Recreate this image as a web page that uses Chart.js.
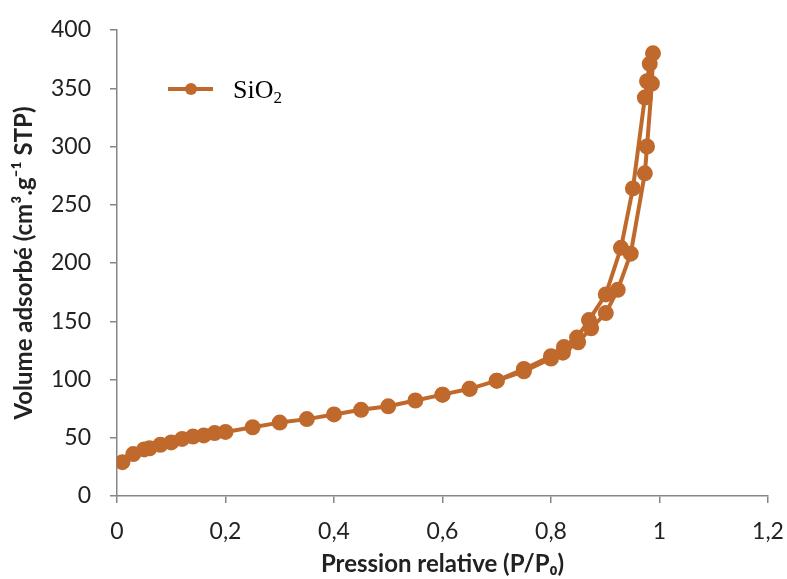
<!DOCTYPE html>
<html>
<head>
<meta charset="utf-8">
<script src="https://cdn.jsdelivr.net/npm/chart.js@4"></script>
<style>
  html, body { margin: 0; padding: 0; background: #fff; }
  #wrap { width: 787px; height: 579px; }
</style>
</head>
<body>
<div id="wrap"><canvas id="grafico" width="787" height="579"></canvas></div>
<script>
// adsorption branch
const adsP = [0.01, 0.03, 0.05, 0.06, 0.08, 0.10, 0.12, 0.14, 0.16, 0.18, 0.20, 0.25, 0.30, 0.35, 0.40, 0.45, 0.50, 0.55, 0.60, 0.65, 0.70, 0.75, 0.80, 0.822, 0.85, 0.874, 0.901, 0.923, 0.947, 0.973, 0.977, 0.986, 0.988];
const adsV = [29, 36, 40, 41, 44, 46, 49, 51, 52, 54, 55, 59, 63, 66, 70, 74, 77, 82, 87, 92, 99, 107, 118, 123, 132, 144, 157, 177, 208, 277, 300, 354, 380];
// desorption branch
const desP = [0.982, 0.977, 0.973, 0.951, 0.929, 0.901, 0.870, 0.848, 0.824, 0.80, 0.75, 0.70, 0.65, 0.60];
const desV = [371, 356, 342, 264, 213, 173, 151, 136, 128, 120, 109, 99, 92, 87];

const xTicks = [0, 0.2, 0.4, 0.6, 0.8, 1, 1.2];
const yTicks = [0, 50, 100, 150, 200, 250, 300, 350, 400];

const cor = "#C0692C";
const cinza = "#868686";
const fonte = "Lato, 'Open Sans', sans-serif";

const pontos = adsP.map((p, i) => ({ x: p, y: adsV[i] }))
  .concat(desP.map((p, i) => ({ x: p, y: desV[i] })));

// legenda desenhada dentro da area do grafico
const legendaPlugin = {
  id: "legendaSiO2",
  afterDraw(chart) {
    const ctx = chart.ctx;
    const a = chart.chartArea;
    const x0 = a.left + 51, y0 = a.top + 59;
    ctx.save();
    ctx.strokeStyle = cor;
    ctx.lineWidth = 4;
    ctx.beginPath();
    ctx.moveTo(x0, y0);
    ctx.lineTo(x0 + 45, y0);
    ctx.stroke();
    ctx.fillStyle = cor;
    ctx.beginPath();
    ctx.arc(x0 + 23, y0, 6, 0, Math.PI * 2);
    ctx.fill();
    ctx.fillStyle = "#000";
    ctx.textBaseline = "alphabetic";
    ctx.font = "26px 'Liberation Serif', serif";
    ctx.fillText("SiO", x0 + 65, y0 + 9);
    const w = ctx.measureText("SiO").width;
    ctx.font = "17px 'Liberation Serif', serif";
    ctx.fillText("2", x0 + 65 + w, y0 + 14);
    ctx.restore();
  }
};

new Chart(document.getElementById("grafico"), {
  type: "scatter",
  data: {
    datasets: [{
      label: "SiO2",
      data: pontos,
      showLine: true,
      borderColor: cor,
      backgroundColor: cor,
      borderWidth: 4,
      borderJoinStyle: "round",
      pointRadius: 6,
      pointHoverRadius: 6,
      tension: 0
    }]
  },
  options: {
    responsive: false,
    animation: false,
    layout: { padding: { top: 30, right: 0, bottom: 0, left: 10 } },
    plugins: { legend: { display: false }, tooltip: { enabled: false } },
    scales: {
      x: {
        type: "linear",
        min: 0, max: 1.2,
        afterBuildTicks: s => { s.ticks = xTicks.map(v => ({ value: v })); },
        afterFit: s => { s.height = 83; s.paddingRight = 19; },
        border: { color: cinza, width: 1.5 },
        grid: { display: true, drawOnChartArea: false, drawTicks: true, tickLength: 7, color: cinza, lineWidth: 1.5 },
        ticks: {
          color: "#222", font: { family: fonte, size: 23 }, padding: 15,
          callback: v => String(v).replace(".", ",")
        },
        title: {
          display: true, text: "Pression relative (P/P₀)", color: "#222",
          font: { family: fonte, size: 24, weight: "bold" }, padding: { top: 0, bottom: 0 }
        }
      },
      y: {
        type: "linear",
        min: 0, max: 400,
        afterBuildTicks: s => { s.ticks = yTicks.map(v => ({ value: v })); },
        afterFit: s => { s.width = 107; s.paddingTop = 10; },
        border: { color: cinza, width: 1.5 },
        grid: { display: true, drawOnChartArea: false, drawTicks: true, tickLength: 7, color: cinza, lineWidth: 1.5 },
        ticks: { color: "#222", font: { family: fonte, size: 23 }, padding: 19 },
        title: {
          display: true, text: "Volume adsorbé (cm³.g⁻¹ STP)", color: "#222",
          font: { family: fonte, size: 24, weight: "bold" }, padding: { top: 0, bottom: 6 }
        }
      }
    }
  },
  plugins: [legendaPlugin]
});
</script>
</body>
</html>
